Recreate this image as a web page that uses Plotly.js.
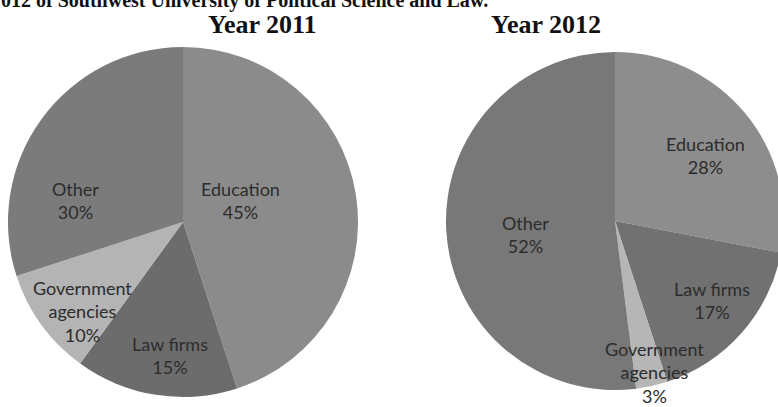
<!DOCTYPE html>
<html>
<head>
<meta charset="utf-8">
<script src="https://cdn.plot.ly/plotly-3.0.1.min.js"></script>
<style>
html,body{margin:0;padding:0;overflow:hidden;background:#fff;}
#chart{width:790px;height:407px;}
</style>
</head>
<body>
<div id="chart"></div>
<script>
// ---- data ----
const labels2011 = ["Education", "Law firms", "Government agencies", "Other"];
const values2011 = [45, 15, 10, 30];
const labels2012 = ["Education", "Law firms", "Government agencies", "Other"];
const values2012 = [28, 17, 3, 52];
const yearTitles = ["Year 2011", "Year 2012"];
const mainTitle = "012 of Southwest University of Political Science and Law.";

// ---- styling / positions ----
const W = 790, H = 407;
const colors2011 = ["#8b8b8b", "#6c6c6c", "#b4b4b4", "#7b7b7b"];
const colors2012 = ["#8d8d8d", "#717171", "#b6b6b6", "#787878"];
// label centers in pixels (x, y)
const labelPos2011 = [[240, 201], [170, 355], [82, 311], [75, 201]];
const labelPos2012 = [[705, 155], [712, 300], [654, 372], [525, 235]];
const yearPos = [[262, 24], [546, 24]];

const px = x => x / W;
const py = y => 1 - y / H;

function wrapLabel(l) { return l.replace(" agencies", "<br>agencies"); }

const traces = [
  {
    type: "pie", labels: labels2011, values: values2011, sort: false,
    direction: "clockwise", rotation: 0, textinfo: "none", hoverinfo: "label+percent",
    marker: {colors: colors2011, line: {width: 0}},
    domain: {x: [px(8), px(358)], y: [py(397), py(47)]}
  },
  {
    type: "pie", labels: labels2012, values: values2012, sort: false,
    direction: "clockwise", rotation: 0, textinfo: "none", hoverinfo: "label+percent",
    marker: {colors: colors2012, line: {width: 0}},
    domain: {x: [px(446), px(784)], y: [py(390), py(52)]}
  }
];

const annotations = [];
const labelFont = {family: "Lato, 'Open Sans', sans-serif", size: 18, color: "#2c2c2c"};
function addLabels(labels, values, pos) {
  labels.forEach((l, i) => {
    annotations.push({
      xref: "paper", yref: "paper", x: px(pos[i][0]), y: py(pos[i][1]),
      xanchor: "center", yanchor: "middle", showarrow: false,
      text: wrapLabel(l) + "<br>" + values[i] + "%", font: labelFont, align: "center"
    });
  });
}
addLabels(labels2011, values2011, labelPos2011);
addLabels(labels2012, values2012, labelPos2012);

yearTitles.forEach((t, i) => {
  annotations.push({
    xref: "paper", yref: "paper", x: px(yearPos[i][0]), y: py(yearPos[i][1]),
    xanchor: "center", yanchor: "middle", showarrow: false,
    text: "<b>" + t + "</b>",
    font: {family: "'Liberation Serif', 'Times New Roman', serif", size: 26, color: "#111"}
  });
});
annotations.push({
  xref: "paper", yref: "paper", x: px(490), y: py(0),
  xanchor: "right", yanchor: "middle", showarrow: false,
  text: "<b>" + mainTitle + "</b>",
  font: {family: "'Liberation Serif', 'Times New Roman', serif", size: 20, color: "#111"}
});

const layout = {
  width: W, height: H,
  margin: {l: 0, r: 0, t: 0, b: 0},
  paper_bgcolor: "#fff", plot_bgcolor: "#fff",
  showlegend: false,
  annotations: annotations
};
Plotly.newPlot("chart", traces, layout, {displayModeBar: false, staticPlot: true});
</script>
</body>
</html>
